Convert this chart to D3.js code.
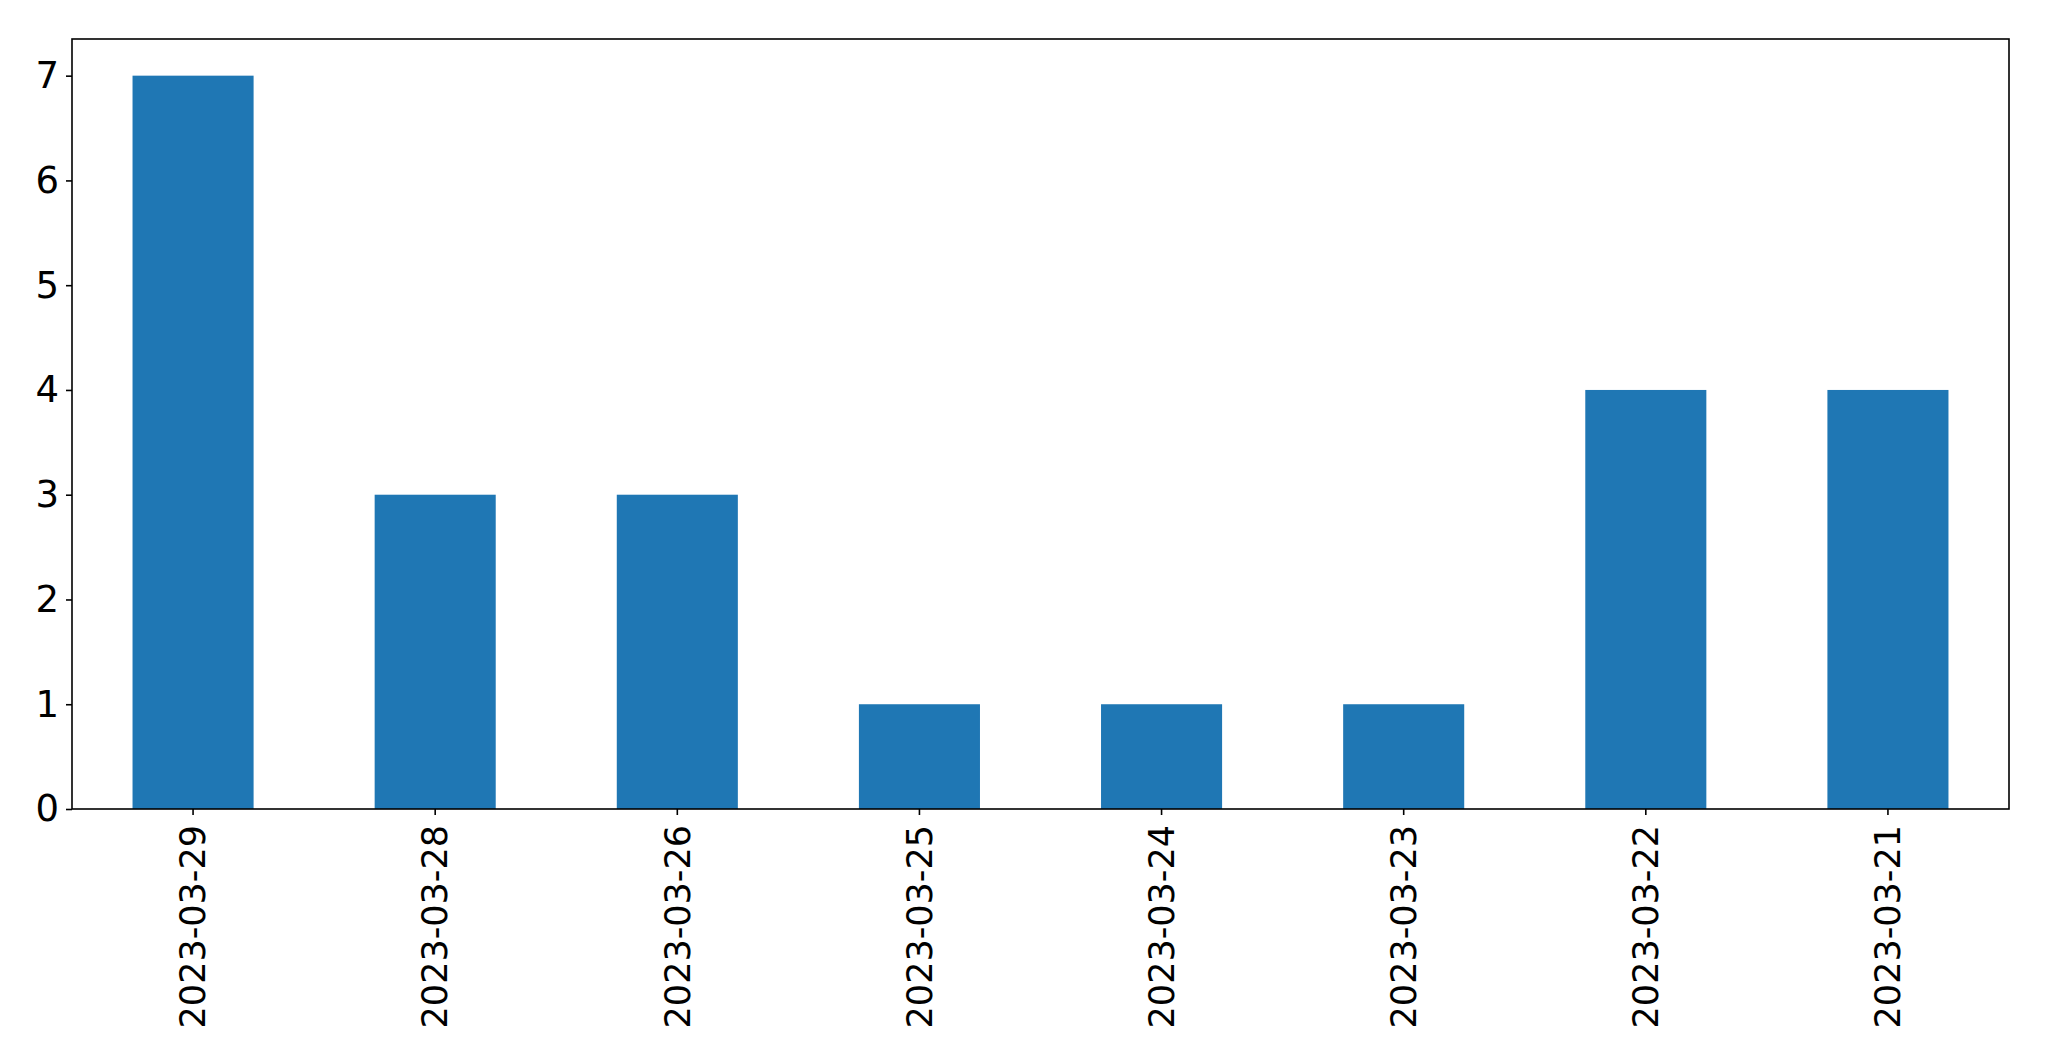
<!DOCTYPE html>
<html>
<head>
<meta charset="utf-8">
<script src="https://cdn.jsdelivr.net/npm/d3@7"></script>
<style>
  html, body { margin: 0; padding: 0; background: #fff; }
  svg { display: block; }
</style>
</head>
<body>
<script>
const categories = ["2023-03-29", "2023-03-28", "2023-03-26", "2023-03-25", "2023-03-24", "2023-03-23", "2023-03-22", "2023-03-21"];
const values = [7, 3, 3, 1, 1, 1, 4, 4];
const yTicks = [0, 1, 2, 3, 4, 5, 6, 7];

const W = 2049, H = 1061;
const margin = { left: 72, right: W - 2009, top: 39, bottom: H - 809 };
const iw = W - margin.left - margin.right;
const ih = H - margin.top - margin.bottom;

const svg = d3.select("body").append("svg").attr("width", W).attr("height", H);
const g = svg.append("g").attr("transform", `translate(${margin.left},${margin.top})`);

const x = d3.scaleBand().domain(categories).range([0, iw]).paddingInner(0.5).paddingOuter(0.25);
const y = d3.scaleLinear().domain([0, d3.max(values) * 1.05]).range([ih, 0]);

g.selectAll("rect.bar").data(values).join("rect")
  .attr("class", "bar")
  .attr("x", (d, i) => x(categories[i]))
  .attr("width", x.bandwidth())
  .attr("y", d => y(d))
  .attr("height", d => ih - y(d))
  .attr("fill", "#1f77b4");

const font = "DejaVu Sans";
const yAxis = g.append("g").call(d3.axisLeft(y).tickValues(yTicks).tickFormat(d3.format("d")).tickSize(6).tickPadding(7));
yAxis.select(".domain").remove();
yAxis.selectAll("text").attr("font-family", font).attr("font-size", 37).attr("fill", "#000");
yAxis.selectAll("line").attr("stroke", "#000").attr("stroke-width", 1.6);

const xAxis = g.append("g").attr("transform", `translate(0,${ih})`).call(d3.axisBottom(x).tickSize(6).tickPadding(8));
xAxis.select(".domain").remove();
xAxis.selectAll("line").attr("stroke", "#000").attr("stroke-width", 1.6);
xAxis.selectAll("text")
  .attr("font-family", font).attr("font-size", 35).attr("fill", "#000")
  .attr("transform", "rotate(-90)")
  .attr("text-anchor", "end")
  .attr("x", -16)
  .attr("y", 0)
  .attr("dy", "0.35em");

g.append("rect").attr("x", 0).attr("y", 0).attr("width", iw).attr("height", ih)
  .attr("fill", "none").attr("stroke", "#000").attr("stroke-width", 1.6);
</script>
</body>
</html>
